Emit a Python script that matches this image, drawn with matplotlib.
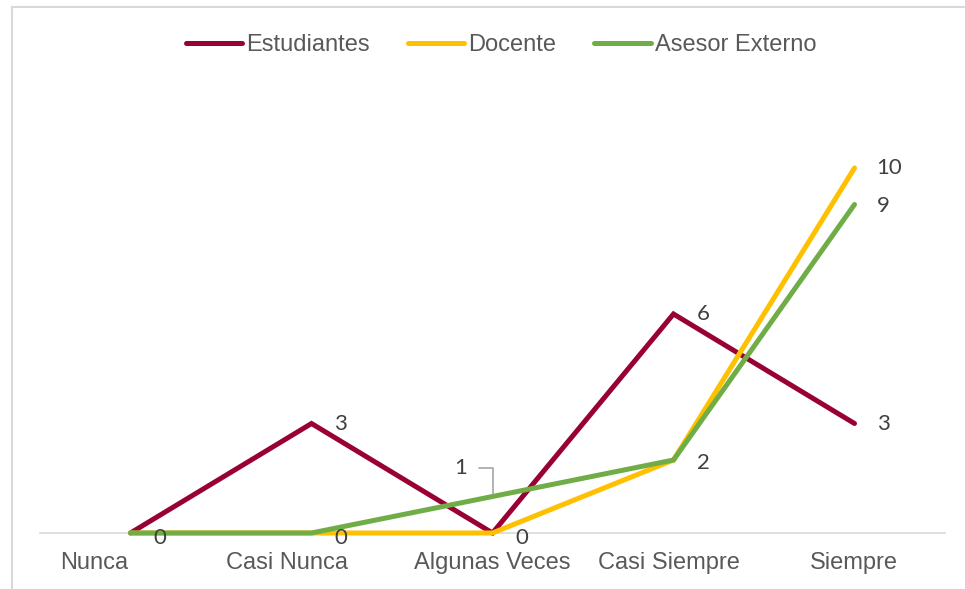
import matplotlib.pyplot as plt
import matplotlib.transforms as mtransforms
from matplotlib.lines import Line2D

categories = ['Nunca', 'Casi Nunca', 'Algunas Veces', 'Casi Siempre', 'Siempre']
estudiantes = [0, 3, 0, 6, 3]
docente = [0, 0, 0, 2, 10]
asesor = [0, 0, 1, 2, 9]

series = [
    ('Estudiantes', estudiantes, '#990033'),
    ('Docente', docente, '#FFC000'),
    ('Asesor Externo', asesor, '#70AD47'),
]

fig = plt.figure(figsize=(9.65, 5.89), dpi=100)
ax = fig.add_axes([40 / 965, 1 - 533 / 589, 905 / 965, 438 / 589])

# light chart border (left and top edges)
top = 1 - 7 / 589
left = 11.5 / 965
fig.add_artist(Line2D([left, left], [0, top], color='#D9D9D9', lw=1.5))
fig.add_artist(Line2D([left, 1], [top, top], color='#D9D9D9', lw=1.5))

x = list(range(len(categories)))
for name, vals, color in series:
    ax.plot(x, vals, color=color, lw=3.6, label=name, solid_capstyle='round',
            solid_joinstyle='miter', clip_on=False)

ax.set_xlim(-0.5, 4.5)
ax.set_ylim(0, 12)
for s in ['top', 'right', 'left']:
    ax.spines[s].set_visible(False)
ax.spines['bottom'].set_color('#D9D9D9')
ax.spines['bottom'].set_linewidth(1.2)
ax.spines['bottom'].set_zorder(0)
ax.set_yticks([])
ax.set_xticks(x)
ax.set_xticklabels(categories, fontsize=17, color='#595959', family='Liberation Sans')
ax.tick_params(axis='x', length=0, pad=14)

# nudge the category labels sideways (pixels)
shifts = [-36, -24, 0, -5, -1]
for lbl, dx in zip(ax.get_xticklabels(), shifts):
    lbl.set_transform(lbl.get_transform() + mtransforms.ScaledTranslation(dx / 100, 0, fig.dpi_scale_trans))

lab = dict(fontsize=16, color='#404040', family='Lato', va='center', ha='left',
           textcoords='offset pixels')

# data labels to the right of each point
for i in range(3):
    ax.annotate('0', (x[i], 0), xytext=(23, -5), **lab)
ax.annotate(str(estudiantes[1]), (1, estudiantes[1]), xytext=(23, 0), **lab)
ax.annotate(str(estudiantes[3]), (3, estudiantes[3]), xytext=(23, 0), **lab)
ax.annotate(str(estudiantes[4]), (4, estudiantes[4]), xytext=(23, 0), **lab)
ax.annotate(str(docente[3]), (3, docente[3]), xytext=(23, -3), **lab)
ax.annotate(str(docente[4]), (4, docente[4]), xytext=(22, 0), **lab)
ax.annotate(str(asesor[4]), (4, asesor[4]), xytext=(22, -1), **lab)

# callout label for the Asesor Externo point at Algunas Veces
ax.annotate(str(asesor[2]), (2, asesor[2]), xytext=(-32, 28), textcoords='offset pixels',
            fontsize=16, color='#404040', family='Lato', va='center', ha='center',
            arrowprops=dict(arrowstyle='-', color='#A6A6A6', lw=1.2,
                            connectionstyle='angle,angleA=0,angleB=90,rad=0',
                            shrinkA=7, shrinkB=2, relpos=(1.0, 0.55)))

fig.legend(loc='center', bbox_to_anchor=(501 / 965, 1 - 45 / 589), ncol=3, frameon=False,
           labelcolor='#595959', handlelength=2.4, handletextpad=0.17,
           columnspacing=1.6, prop={'family': 'Liberation Sans', 'size': 17})

fig.savefig('out.png', dpi=100)
